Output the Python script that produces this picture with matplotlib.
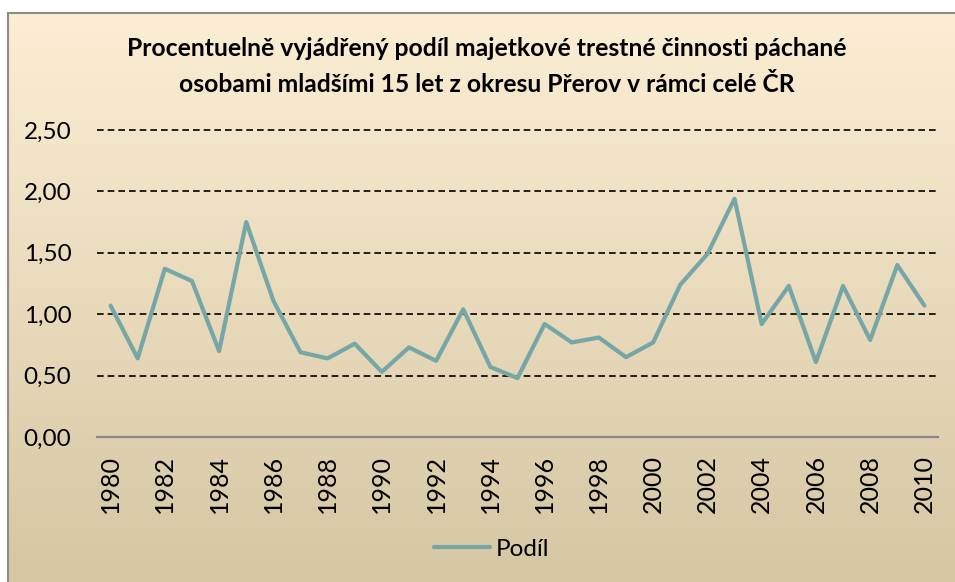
import numpy as np
import matplotlib
matplotlib.use("Agg")
import matplotlib.pyplot as plt

# ---- data ----
years = list(range(1980, 2011))
podil = [1.07, 0.64, 1.37, 1.27, 0.70, 1.75, 1.11, 0.69, 0.64, 0.76,
         0.53, 0.73, 0.62, 1.04, 0.57, 0.48, 0.92, 0.77, 0.81, 0.65,
         0.77, 1.24, 1.49, 1.94, 0.92, 1.23, 0.61, 1.23, 0.79, 1.40, 1.07]
y_ticks = [0.0, 0.5, 1.0, 1.5, 2.0, 2.5]
y_tick_labels = ["0,00", "0,50", "1,00", "1,50", "2,00", "2,50"]
x_tick_years = years[::2]
title_lines = ["Procentuelně vyjádřený podíl majetkové trestné činnosti páchané",
               "osobami mladšími 15 let z okresu Přerov v rámci celé ČR"]
series_name = "Podíl"

FONT = ["Lato", "DejaVu Sans"]
plt.rcParams['font.family'] = FONT

W, H = 955, 582
fig = plt.figure(figsize=(W / 100, H / 100), dpi=100)
fig.patch.set_facecolor("white")

# ---- background (chart area gradient + border) ----
bg = fig.add_axes([0, 0, 1, 1], zorder=-10)
top = np.array([252, 238, 212]) / 255.0
bot = np.array([213, 199, 163]) / 255.0
g = np.linspace(0, 1, 256)[:, None, None]
img = top[None, None, :] + (bot - top)[None, None, :] * g
bg.imshow(img, extent=(7.5, W + 5, H, 12.5), aspect='auto', interpolation='bilinear')
bg.plot([7.5, 7.5], [12.5, H + 5], color='#8c8c8c', lw=1.5)
bg.plot([7.5, W + 5], [12.5, 12.5], color='#8c8c8c', lw=1.5)
bg.set_xlim(0, W)
bg.set_ylim(H, 0)
bg.axis('off')

# ---- plot area ----
left, right, ytop, ybot = 97, 938, 130, 437
ax = fig.add_axes([left / W, 1 - ybot / H, (right - left) / W, (ybot - ytop) / H])
ax.patch.set_alpha(0)
x = np.arange(len(years))
line, = ax.plot(x, podil, color='#76A6A6', lw=3.0, solid_joinstyle='round',
                solid_capstyle='round', label=series_name, zorder=3)
ax.set_xlim(-0.5, len(years) - 0.5)
ax.set_ylim(0, 2.5)
for yv in y_ticks[1:]:
    ax.axhline(yv, color='black', lw=1.2, dashes=(4.0, 2.4), clip_on=False, zorder=1)
for s in ['top', 'left', 'right']:
    ax.spines[s].set_visible(False)
ax.spines['bottom'].set_color('#868686')
ax.spines['bottom'].set_linewidth(1.6)
ax.set_yticks(y_ticks, y_tick_labels)
ax.tick_params(axis='y', length=0, pad=18.5, labelsize=17.5)
ax.set_xticks(x[::2], [str(v) for v in x_tick_years], rotation=90)
ax.tick_params(axis='x', length=0, pad=13, labelsize=18)

# ---- title ----
renderer = fig.canvas.get_renderer()
targets = [(56, 723), (92, 619)]
for txt, (yb, tw) in zip(title_lines, targets):
    t = fig.text(487 / W, 1 - yb / H, txt, ha='center', va='baseline',
                 fontsize=16, fontweight='bold', color='black')
    w = t.get_window_extent(renderer).width
    t.set_fontsize(16 * tw / w)

# ---- legend ----
fig.legend(handles=[line], labels=[series_name], loc='center',
           bbox_to_anchor=(491.5 / W, 1 - 549 / H), frameon=False,
           fontsize=17.5, handlelength=2.3, handletextpad=0.25)

fig.savefig("out.png", dpi=100)
